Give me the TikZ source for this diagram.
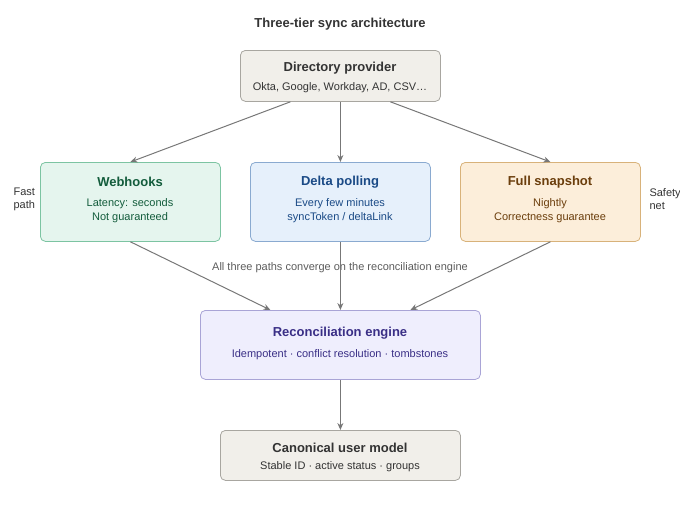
\documentclass[tikz,border=0pt]{standalone}
\usepackage{fontspec}
\setmainfont{Liberation Sans}
\usetikzlibrary{arrows.meta}
\definecolor{grayF}{HTML}{F1EFEA}\definecolor{grayD}{HTML}{A8A6A0}
\definecolor{grnF}{HTML}{E5F5EE}\definecolor{grnD}{HTML}{7CC4A2}\definecolor{grnT}{HTML}{135C3C}
\definecolor{bluF}{HTML}{E6F0FB}\definecolor{bluD}{HTML}{8AAAD0}\definecolor{bluT}{HTML}{1A4A86}
\definecolor{orgF}{HTML}{FCEEDA}\definecolor{orgD}{HTML}{D8B27A}\definecolor{orgT}{HTML}{6B3E0C}
\definecolor{purF}{HTML}{EFEEFD}\definecolor{purD}{HTML}{A9A4D6}\definecolor{purT}{HTML}{3A2F86}
\definecolor{txt}{HTML}{333333}\definecolor{arr}{HTML}{777777}
\begin{document}
\begin{tikzpicture}[x=1pt,y=-1pt,
 box/.style={draw=#1D,fill=#1F,rounded corners=5pt,line width=0.8pt,anchor=north west,inner sep=0pt},
 ttl/.style={font=\fontsize{13}{15}\selectfont\bfseries},
 sub/.style={font=\fontsize{11}{14}\selectfont,align=center},
 ar/.style={draw=arr,line width=1pt,-{Stealth[length=7pt,width=6pt]}},
 side/.style={font=\fontsize{11}{13}\selectfont,text=txt,align=left}]
\useasboundingbox (0,0) rectangle (680,504);
\node[font=\fontsize{13}{15}\selectfont\bfseries,text=txt] (title) at (340,24) {Three-tier sync architecture};
\node[box=gray,minimum width=200pt,minimum height=51pt] (dir) at (240,50) {};
\node[ttl,text=txt] (dirt) at (340,68) {Directory provider};
\node[sub,text=txt] (dirs) at (340,88) {Okta, Google, Workday, AD, CSV…};
\node[box=grn,minimum width=180pt,minimum height=79pt] (wh) at (40,162) {};
\node[ttl,text=grnT] (wht) at (130,182) {Webhooks};
\node[sub,text=grnT] (whs) at (130,211) {Latency: seconds\\Not guaranteed};
\node[box=blu,minimum width=180pt,minimum height=79pt] (dp) at (250,162) {};
\node[ttl,text=bluT] (dpt) at (340,182) {Delta polling};
\node[sub,text=bluT] (dps) at (340,211) {Every few minutes\\syncToken / deltaLink};
\node[box=org,minimum width=180pt,minimum height=79pt] (fs) at (460,162) {};
\node[ttl,text=orgT] (fst) at (550,182) {Full snapshot};
\node[sub,text=orgT] (fss) at (550,211) {Nightly\\Correctness guarantee};
\node[side,anchor=west] (fast) at (10,199) {Fast\\path};
\node[side,anchor=west] (safe) at (646,199) {Safety\\net};
\node[font=\fontsize{11}{13}\selectfont,text=txt!80] (conv) at (340,268) {All three paths converge on the reconciliation engine};
\node[box=pur,minimum width=280pt,minimum height=69pt] (re) at (200,310) {};
\node[ttl,text=purT] (ret) at (340,333) {Reconciliation engine};
\node[sub,text=purT] (res) at (340,355) {Idempotent · conflict resolution · tombstones};
\node[box=gray,minimum width=240pt,minimum height=50pt] (cu) at (220,430) {};
\node[ttl,text=txt] (cut) at (340,448) {Canonical user model};
\node[sub,text=txt] (cus) at (340,467) {Stable ID · active status · groups};
\draw[ar] ([xshift=-50pt]dir.south) -- (wh.north);
\draw[ar] (dir.south) -- (dp.north);
\draw[ar] ([xshift=50pt]dir.south) -- (fs.north);
\draw[ar] (wh.south) -- ([xshift=-70pt]re.north);
\draw[ar] (dp.south) -- (re.north);
\draw[ar] (fs.south) -- ([xshift=70pt]re.north);
\draw[ar] (re.south) -- (cu.north);
\end{tikzpicture}
\end{document}
